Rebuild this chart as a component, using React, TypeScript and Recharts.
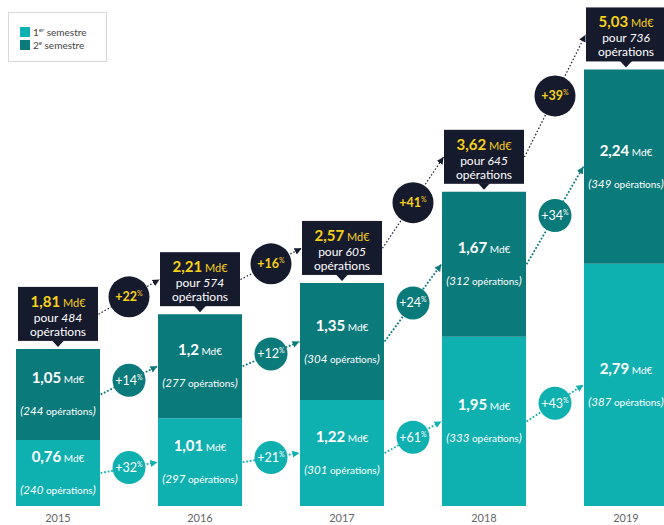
import React from 'react';
import { ComposedChart, Bar, XAxis, YAxis, LabelList, Line, Scatter } from 'recharts';

const years = ['2015', '2016', '2017', '2018', '2019'];
const s1Values = [0.76, 1.01, 1.22, 1.95, 2.79];
const s2Values = [1.05, 1.2, 1.35, 1.67, 2.24];
const s1Ops = [240, 297, 301, 333, 387];
const s2Ops = [244, 277, 304, 312, 349];
const totals = [1.81, 2.21, 2.57, 3.62, 5.03];
const totalOps = [484, 574, 605, 645, 736];
const totalGrowth = [22, 16, 41, 39];
const s2Growth = [14, 12, 24, 34];
const s1Growth = [32, 21, 61, 43];

const LIGHT = '#0FB0B0';
const DARK = '#0B7A7A';
const NAVY = '#161A2D';
const YELLOW = '#F7D117';
const FONT = 'Lato, "Open Sans", sans-serif';

const Y_MAX = 5.83;
const BOX_OFF = 0.4; // box centre above bar top, in value units
const EDGE = 0.3;
const BOX_EDGE = 0.285;

const data = years.map((y, i) => ({ year: y, s1: s1Values[i], s2: s2Values[i] }));

const fmt = (v: number) => String(v).replace('.', ',');

const segCentreS1 = (i: number) => s1Values[i] / 2;
const segCentreS2 = (i: number) => s1Values[i] + s2Values[i] / 2;
const boxCentre = (i: number) => totals[i] + BOX_OFF;

const makeConnectors = (fn: (i: number) => number, startOff: number, endOff: number) =>
  [0, 1, 2, 3].map((i) => [
    { x: i + startOff, y: fn(i) },
    { x: i + 1 - endOff, y: fn(i + 1) },
  ]);

const totalLines = makeConnectors(boxCentre, BOX_EDGE, BOX_EDGE);
const s2Lines = makeConnectors(segCentreS2, EDGE, EDGE);
const s1Lines = makeConnectors(segCentreS1, EDGE, EDGE);

const totalDots = totalGrowth.map((g, i) => ({ x: i + 0.5, y: (boxCentre(i) + boxCentre(i + 1)) / 2, g }));
const s2Dots = s2Growth.map((g, i) => ({ x: i + 0.5, y: (segCentreS2(i) + segCentreS2(i + 1)) / 2, g }));
const s1Dots = s1Growth.map((g, i) => ({ x: i + 0.5, y: (segCentreS1(i) + segCentreS1(i + 1)) / 2, g }));

const makeSegmentLabel = (values: number[], ops: number[]) => (props: any) => {
  const x = Number(props.x);
  const y = Number(props.y);
  const w = Number(props.width);
  const h = Number(props.height);
  const i = props.index;
  const cx = x + w / 2;
  const cy = y + h / 2;
  return (
    <g fontFamily={FONT}>
      <text x={cx} y={cy - 11} textAnchor="middle" fill="#fff">
        <tspan fontSize={15} fontWeight={700}>{fmt(values[i])}</tspan>
        <tspan fontSize={10}> Md€</tspan>
      </text>
      <text x={cx} y={cy + 21} textAnchor="middle" fill="#fff">
        <tspan fontSize={11.5} fontStyle="italic">({ops[i]}</tspan>
        <tspan fontSize={10}> opérations</tspan>
        <tspan fontSize={11.5} fontStyle="italic">)</tspan>
      </text>
    </g>
  );
};

const TotalBox = (props: any) => {
  const x = Number(props.x);
  const y = Number(props.y);
  const w = Number(props.width);
  const i = props.index;
  const cx = x + w / 2;
  return (
    <g fontFamily={FONT}>
      <rect x={x + 2} y={y - 62} width={w - 4} height={54} fill={NAVY} />
      <polygon points={`${cx - 6},${y - 8.5} ${cx + 6},${y - 8.5} ${cx},${y - 2}`} fill={NAVY} />
      <text x={cx} y={y - 42} textAnchor="middle" fill={YELLOW}>
        <tspan fontSize={15} fontWeight={700}>{fmt(totals[i])}</tspan>
        <tspan fontSize={11}> Md€</tspan>
      </text>
      <text x={cx} y={y - 27} textAnchor="middle" fill="#fff" fontSize={12}>
        <tspan>pour </tspan>
        <tspan fontStyle="italic">{totalOps[i]}</tspan>
      </text>
      <text x={cx} y={y - 13} textAnchor="middle" fill="#fff" fontSize={12}>
        opérations
      </text>
    </g>
  );
};

const makeGrowthDot = (fill: string, textFill: string, r: number, bold: boolean) => (props: any) => {
  const { cx, cy, payload } = props;
  return (
    <g fontFamily={FONT}>
      <circle cx={cx} cy={cy} r={r} fill={fill} />
      <text x={cx} y={cy + 4.5} textAnchor="middle" fill={textFill}>
        <tspan fontSize={12.5} fontWeight={bold ? 700 : 400}>+{payload.g}</tspan>
        <tspan fontSize={7} dy={-5}>%</tspan>
      </text>
    </g>
  );
};

const LegendBox = () => (
  <div
    style={{
      position: 'absolute',
      left: 8,
      top: 12,
      width: 99,
      height: 50,
      boxSizing: 'border-box',
      border: '1px solid #d8d8d8',
      background: '#fff',
      fontFamily: FONT,
      fontSize: 10,
      color: '#444',
      padding: '12px 0 0 11px',
      lineHeight: '13px',
    }}
  >
    <div style={{ display: 'flex', alignItems: 'center', height: 13 }}>
      <span style={{ display: 'inline-block', width: 10, height: 10, background: LIGHT, marginRight: 3 }} />
      <span>
        1<sup style={{ fontSize: 6 }}>er</sup> semestre
      </span>
    </div>
    <div style={{ display: 'flex', alignItems: 'center', height: 13 }}>
      <span style={{ display: 'inline-block', width: 10, height: 10, background: DARK, marginRight: 3 }} />
      <span>
        2<sup style={{ fontSize: 6 }}>e</sup> semestre
      </span>
    </div>
  </div>
);

const Marker = ({ id, color }: { id: string; color: string }) => (
  <marker id={id} markerWidth={8} markerHeight={8} refX={7} refY={4} orient="auto" markerUnits="userSpaceOnUse">
    <path d="M0,0.5 L7,4 L0,7.5 z" fill={color} />
  </marker>
);

export default function App() {
  return (
    <div style={{ position: 'absolute', left: 0, top: 0, width: 664, height: 525, overflow: 'hidden', background: '#fff' }}>
      <svg width={0} height={0} style={{ position: 'absolute' }}>
        <defs>
          <Marker id="arrow-navy" color={NAVY} />
          <Marker id="arrow-dark" color={DARK} />
          <Marker id="arrow-light" color={LIGHT} />
        </defs>
      </svg>
      <div style={{ position: 'absolute', left: -13, top: 0 }}>
        <ComposedChart width={710} height={525} data={data} margin={{ top: 0, right: 0, bottom: 0, left: 0 }}>
          <XAxis
            xAxisId="cat"
            dataKey="year"
            type="category"
            height={19}
            tickLine={false}
            axisLine={false}
            tick={{ fill: '#666', fontSize: 11, fontFamily: FONT }}
            tickMargin={2}
          />
          <XAxis xAxisId="num" type="number" dataKey="x" domain={[-0.5, 4.5]} allowDataOverflow hide />
          <YAxis yAxisId="main" hide domain={[0, Y_MAX]} allowDataOverflow />
          <YAxis yAxisId="ny" hide dataKey="y" domain={[0, Y_MAX]} allowDataOverflow />
          <Bar xAxisId="cat" yAxisId="main" dataKey="s1" name="1er semestre" stackId="a" fill={LIGHT} barSize={84} isAnimationActive={false}>
            <LabelList dataKey="s1" content={makeSegmentLabel(s1Values, s1Ops)} />
          </Bar>
          <Bar xAxisId="cat" yAxisId="main" dataKey="s2" name="2e semestre" stackId="a" fill={DARK} barSize={84} isAnimationActive={false}>
            <LabelList dataKey="s2" content={makeSegmentLabel(s2Values, s2Ops)} />
            <LabelList dataKey="s2" content={TotalBox} />
          </Bar>
          {totalLines.map((d, k) => (
            <Line key={`t${k}`} xAxisId="num" yAxisId="ny" data={d} dataKey="y" type="linear" stroke={NAVY} strokeWidth={1.2}
              strokeDasharray="1.5 2" dot={false} activeDot={false} legendType="none" isAnimationActive={false} markerEnd="url(#arrow-navy)" />
          ))}
          {s2Lines.map((d, k) => (
            <Line key={`d${k}`} xAxisId="num" yAxisId="ny" data={d} dataKey="y" type="linear" stroke={DARK} strokeWidth={1.8}
              strokeDasharray="1.8 1.8" dot={false} activeDot={false} legendType="none" isAnimationActive={false} markerEnd="url(#arrow-dark)" />
          ))}
          {s1Lines.map((d, k) => (
            <Line key={`l${k}`} xAxisId="num" yAxisId="ny" data={d} dataKey="y" type="linear" stroke={LIGHT} strokeWidth={1.8}
              strokeDasharray="1.8 1.8" dot={false} activeDot={false} legendType="none" isAnimationActive={false} markerEnd="url(#arrow-light)" />
          ))}
          <Scatter xAxisId="num" yAxisId="ny" data={totalDots} dataKey="y" legendType="none" isAnimationActive={false}
            shape={makeGrowthDot(NAVY, YELLOW, 20.5, true)} />
          <Scatter xAxisId="num" yAxisId="ny" data={s2Dots} dataKey="y" legendType="none" isAnimationActive={false}
            shape={makeGrowthDot(DARK, '#fff', 16.5, false)} />
          <Scatter xAxisId="num" yAxisId="ny" data={s1Dots} dataKey="y" legendType="none" isAnimationActive={false}
            shape={makeGrowthDot(LIGHT, '#fff', 16.5, false)} />
        </ComposedChart>
      </div>
      <LegendBox />
    </div>
  );
}
